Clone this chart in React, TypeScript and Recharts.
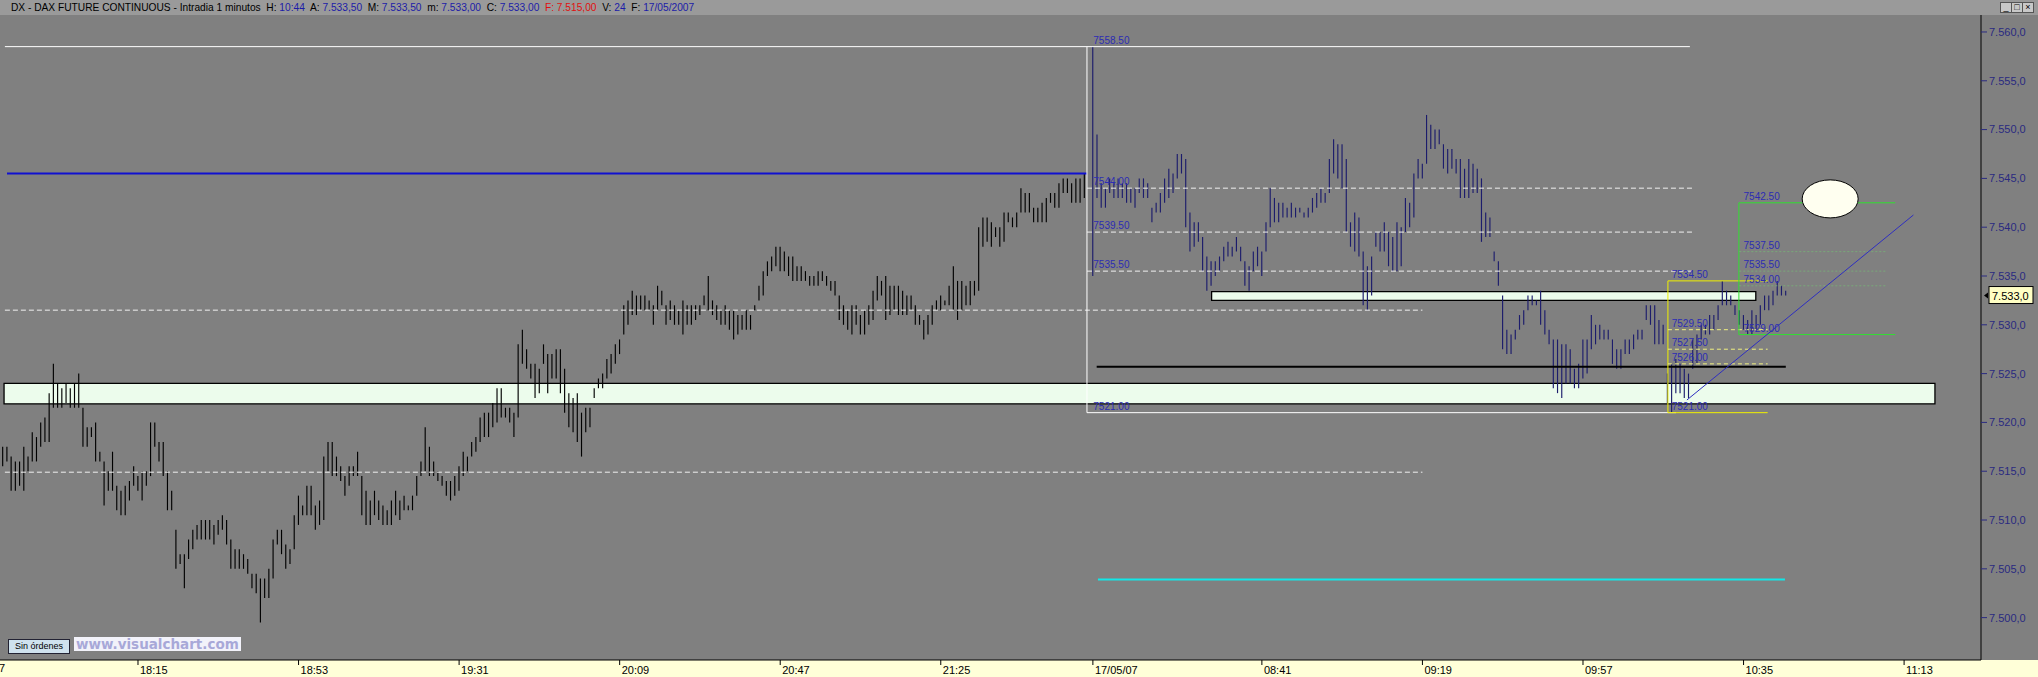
import React from 'react';
import {
  ComposedChart, Bar, XAxis, YAxis, ReferenceLine, ReferenceArea, ReferenceDot,
} from 'recharts';

// one slot per minute: day 1 = 17:43..21:59 (slots 0..256), day 2 = 08:00..10:44 (slots 258..422)
const DAY2_START = 258;

const day1High = [
  7517.5, 7517.5, 7516.5, 7516, 7516, 7517.5, 7516.5, 7519, 7518.5, 7520,
  7520.5, 7523, 7526, 7524, 7523.5, 7524, 7523.5, 7524, 7525, 7521.5,
  7519.5, 7519.5, 7520, 7517, 7516, 7515, 7517, 7513.5, 7513, 7513.5,
  7514, 7515.5, 7514.5, 7515, 7515, 7520, 7520, 7518, 7518, 7515,
  7513, 7509, 7506.5, 7506.5, 7508, 7509, 7509.5, 7510, 7510, 7510,
  7509.5, 7510, 7510.5, 7510, 7508, 7507, 7507, 7506.5, 7506, 7504.5,
  7504.5, 7504, 7504, 7505, 7508, 7509, 7509, 7507.5, 7507, 7510.5,
  7512.5, 7511.5, 7513.5, 7513.5, 7511.5, 7512, 7516.5, 7518, 7518, 7516.5,
  7515.5, 7514.5, 7515.5, 7515.5, 7517, 7514.5, 7513, 7512, 7513, 7512,
  7511.5, 7511, 7512, 7513, 7512, 7512.5, 7511.5, 7512.5, 7514.5, 7516,
  7519.5, 7517.5, 7516, 7515, 7514.5, 7514, 7514, 7514.5, 7515.5, 7517,
  7516.5, 7518, 7518.5, 7520.5, 7521, 7521, 7522, 7523.5, 7523.5, 7521.5,
  7521.5, 7521, 7528, 7529.5, 7527.5, 7526, 7526, 7525.5, 7528, 7527,
  7527, 7527.5, 7527.5, 7525.5, 7523, 7522.5, 7523, 7521, 7521.5, 7521.5,
  7523.5, 7524.5, 7525, 7526.5, 7527, 7528, 7528.5, 7532, 7532.5, 7533.5,
  7533, 7533, 7533, 7532.5, 7532, 7534, 7533.5, 7532, 7532.5, 7532,
  7531.5, 7532.5, 7532, 7532, 7532, 7532, 7533, 7535, 7532.5, 7532,
  7531.5, 7532, 7531.5, 7531.5, 7531, 7531, 7531.5, 7531, 7532, 7534,
  7535.5, 7536.5, 7537, 7538, 7538, 7537.5, 7537, 7537, 7536, 7536,
  7535.5, 7535, 7535, 7535.5, 7535.5, 7535, 7534.5, 7534.5, 7533, 7532,
  7531.5, 7532, 7532, 7531, 7531.5, 7532, 7533.5, 7535, 7534.5, 7535,
  7534, 7534, 7534, 7533.5, 7533, 7533, 7532, 7531, 7530.5, 7531,
  7532, 7532.5, 7533, 7532.5, 7534, 7536, 7534.5, 7534.5, 7534, 7534.5,
  7534.5, 7540, 7541, 7541, 7540.5, 7540, 7540, 7541.5, 7541.5, 7541,
  7541.5, 7544, 7543.5, 7543.5, 7542, 7542, 7542.5, 7543, 7543.5, 7543.5,
  7544.5, 7545, 7545, 7544.5, 7545, 7545, 7545.5,
];

const day1Low = [
  7515.5, 7516, 7513, 7513, 7513.5, 7513, 7515, 7516, 7516, 7517.5,
  7518, 7518, 7521.5, 7521.5, 7521.5, 7522, 7521.5, 7521.5, 7521.5, 7517.5,
  7517.5, 7518.5, 7516, 7516, 7511.5, 7513, 7513, 7511, 7510.5, 7510.5,
  7512, 7513.5, 7513, 7512, 7513.5, 7514.5, 7517.5, 7516, 7514.5, 7511,
  7511, 7505, 7505.5, 7503, 7506, 7507, 7508, 7508, 7508, 7508,
  7507.5, 7508.5, 7509, 7507.5, 7505, 7505, 7505, 7505, 7504.5, 7503,
  7502.5, 7499.5, 7502, 7502, 7504, 7507.5, 7506.5, 7505, 7505.5, 7507,
  7509.5, 7510.5, 7510.5, 7510.5, 7509, 7509.5, 7510, 7515, 7514.5, 7514.5,
  7514, 7512.5, 7513.5, 7514.5, 7514.5, 7510.5, 7509.5, 7509.5, 7510.5, 7510,
  7509.5, 7509.5, 7509.5, 7510.5, 7510, 7511, 7511, 7511, 7512.5, 7514.5,
  7515, 7514.5, 7514.5, 7514, 7513.5, 7512.5, 7512, 7512.5, 7513, 7514.5,
  7515, 7516.5, 7517, 7518, 7518.5, 7518.5, 7519.5, 7520, 7520.5, 7520.5,
  7520, 7518.5, 7520.5, 7526, 7525.5, 7524.5, 7522.5, 7523, 7526, 7523,
  7524.5, 7524.5, 7523, 7521, 7519.5, 7519, 7518, 7516.5, 7519, 7519.5,
  7522.5, 7523.5, 7523.5, 7524.5, 7525, 7526, 7527, 7529, 7530, 7531,
  7531, 7531.5, 7531.5, 7531.5, 7530, 7531.5, 7532, 7530, 7530.5, 7530,
  7530, 7529, 7530, 7530, 7530.5, 7531, 7532, 7531.5, 7531, 7530.5,
  7530, 7530, 7529.5, 7528.5, 7529, 7529.5, 7529.5, 7529.5, 7531.5, 7532.5,
  7533, 7535, 7535.5, 7536, 7535.5, 7535.5, 7535, 7534.5, 7534.5, 7534.5,
  7534.5, 7534, 7534, 7534, 7534.5, 7534, 7533.5, 7533, 7530.5, 7530,
  7529.5, 7529, 7530, 7529, 7529, 7530, 7530.5, 7532.5, 7533, 7530.5,
  7531, 7531.5, 7531, 7531, 7531, 7531.5, 7530, 7530, 7528.5, 7529,
  7530, 7531.5, 7531.5, 7532, 7532, 7531.5, 7530.5, 7531.5, 7532, 7532,
  7533, 7533.5, 7538, 7538.5, 7538, 7539, 7538, 7538.5, 7540.5, 7540,
  7540, 7541.5, 7541.5, 7541.5, 7540.5, 7540.5, 7540.5, 7540.5, 7542.5, 7542,
  7542, 7543.5, 7543.5, 7542.5, 7542.5, 7542.5, 7543,
];

const day2High = [
  7558.5, 7549.5, 7544.5, 7544, 7545, 7544.5, 7545, 7544.5, 7544.5, 7544,
  7544, 7545, 7545, 7544.5, 7542, 7542.5, 7543.5, 7545, 7546, 7545.5,
  7547.5, 7547.5, 7547, 7541.5, 7540.5, 7540.5, 7539, 7537, 7536.5, 7536.5,
  7537, 7538, 7538.5, 7538, 7539, 7538, 7536.5, 7536, 7537.5, 7538,
  7537.5, 7540.5, 7544, 7543, 7542.5, 7542.5, 7542, 7542.5, 7542, 7542,
  7541.5, 7542, 7543, 7543.5, 7544, 7543.5, 7547, 7549, 7548.5, 7548.5,
  7547, 7540.5, 7541.5, 7541, 7537.5, 7536, 7537, 7539.5, 7539.5, 7540.5,
  7539.5, 7539, 7540.5, 7540, 7543, 7542.5, 7545.5, 7547, 7546.5, 7551.5,
  7550.5, 7550, 7550, 7548.5, 7548, 7548, 7547, 7547, 7546, 7547,
  7546.5, 7546, 7545, 7541.5, 7541, 7537.5, 7536.5, 7533, 7529.5, 7529,
  7529.5, 7531, 7531.5, 7533, 7533, 7532.5, 7533.5, 7531.5, 7529.5, 7528.5,
  7528.5, 7528, 7528, 7527.5, 7525.5, 7526, 7528.5, 7528.5, 7531, 7530,
  7530, 7529.5, 7529.5, 7528.5, 7527.5, 7527.5, 7528.5, 7528.5, 7529, 7529.5,
  7529.5, 7532, 7532, 7532, 7530.5, 7530, 7525, 7526, 7526.5, 7526,
  7525.5, 7525, 7528.5, 7529, 7530, 7530, 7531, 7531, 7532, 7534.5,
  7533.5, 7533, 7532, 7531.5, 7531, 7530.5, 7531.5, 7531, 7532, 7533,
  7533, 7533.5, 7534.5, 7534, 7533.5,
];

const day2Low = [
  7535, 7543, 7542, 7542, 7543.5, 7543, 7543, 7543, 7542.5, 7542.5,
  7542, 7543.5, 7543, 7543, 7540.5, 7541.5, 7541.5, 7542.5, 7543, 7543.5,
  7545, 7545.5, 7540, 7537.5, 7538, 7538.5, 7535.5, 7533.5, 7534, 7535,
  7535.5, 7536.5, 7537, 7537, 7537.5, 7536.5, 7534, 7533.5, 7535.5, 7536,
  7535, 7537.5, 7540, 7540.5, 7540.5, 7541, 7541, 7541, 7541, 7541.5,
  7541, 7541, 7541.5, 7542, 7542.5, 7542.5, 7543.5, 7545.5, 7545, 7544,
  7539.5, 7538, 7537.5, 7537, 7532, 7531.5, 7533, 7538, 7537.5, 7537.5,
  7536, 7535.5, 7535.5, 7536, 7539.5, 7540, 7541, 7545, 7545, 7546.5,
  7548, 7548, 7548.5, 7546, 7545.5, 7546, 7545.5, 7543, 7543, 7543,
  7543.5, 7543.5, 7538.5, 7539, 7539, 7536.5, 7534, 7527.5, 7527, 7527,
  7528.5, 7529.5, 7530, 7531.5, 7532, 7532, 7530, 7529, 7528, 7523.5,
  7523, 7522.5, 7524, 7524, 7523.5, 7523.5, 7524.5, 7525, 7527.5, 7528,
  7528.5, 7528.5, 7528.5, 7526, 7525.5, 7525.5, 7527, 7527, 7527.5, 7528.5,
  7528.5, 7530.5, 7530, 7528, 7528, 7528, 7522, 7521, 7523, 7523,
  7522.5, 7522.5, 7525.5, 7526, 7528.5, 7529, 7529, 7529.5, 7530.5, 7532,
  7532, 7532, 7531, 7530, 7529.5, 7529, 7529, 7529.5, 7530, 7531.5,
  7531.5, 7532, 7533, 7533, 7533,
];

const timeTicks = [32, 70, 108, 146, 184, 222, 258, 298, 336, 374, 412, 450];
const timeLabels = ['18:15', '18:53', '19:31', '20:09', '20:47', '21:25', '17/05/07', '08:41', '09:19', '09:57', '10:35', '11:13'];
const priceTicks = [7500, 7505, 7510, 7515, 7520, 7525, 7530, 7535, 7540, 7545, 7550, 7555, 7560];

// drawn levels
const dayHigh = 7558.5;
const dayLow = 7521;
const retraceLevels = [7544, 7539.5, 7535.5];
const prevLevels = [7531.5, 7514.9];
const fibHigh = 7534.5;
const fibLevels = [7529.5, 7527.5, 7526];
const targetHigh = 7542.5;
const targetLow = 7529;
const targetLevels = [7537.5, 7535.5, 7534];
const resistanceLevel = 7545.5;
const supportBox = [7521.9, 7524];
const midBox = [7532.5, 7533.4];
const blackLevel = 7525.7;
const cyanLevel = 7503.9;
const lastPrice = 7533;
const trendStart = { x: 398.6, y: 7522.3 };
const trendEnd = { x: 452.2, y: 7541.25 };
const markerPoint = { x: 432.5, y: 7542.9 };

const X_MIN = -0.66;
const X_MAX = 468.2;
const Y_MIN = 7495.66;
const Y_MAX = 7561.74;

const FONT = '"Liberation Sans", Arial, sans-serif';
const LABEL_BLUE = '#2c2cb4';

const data = [
  ...day1High.map((h, i) => ({ x: i, range: [day1Low[i], h], day: 1 })),
  ...day2High.map((h, i) => ({ x: DAY2_START + i, range: [day2Low[i], h], day: 2 })),
];

const fmtPrice = (v: number) => {
  const s = v.toFixed(1).replace('.', ',');
  return s.slice(0, 1) + '.' + s.slice(1);
};

const HLBar = (p: any) => {
  const { x, y, width, height, payload } = p;
  if (x == null || y == null) return null;
  const cx = x + width / 2;
  const top = Math.min(y, y + height);
  const bottom = Math.max(y, y + height);
  return (
    <line x1={cx} x2={cx} y1={top} y2={Math.max(bottom, top + 1)}
      stroke={payload.day === 1 ? '#000000' : '#1c1c6c'} strokeWidth={1.15} />
  );
};

const TimeTick = (p: any) => {
  const i = timeTicks.indexOf(p.payload.value);
  return (
    <g>
      <line x1={p.x} x2={p.x} y1={660} y2={665} stroke="#000" />
      <text x={p.x + 2} y={674} fontSize={11} fontFamily={FONT} fill="#000" textAnchor="start">
        {timeLabels[i]}
      </text>
    </g>
  );
};

const textShape = (txt: string, color = LABEL_BLUE) => (p: any) => (
  <text x={p.cx} y={p.cy - 3} fill={color} fontSize={10} fontFamily={FONT}>{txt}</text>
);

const ellipseShape = (p: any) => (
  <ellipse cx={p.cx} cy={p.cy} rx={28} ry={19} fill="#fffff0" stroke="#000" strokeWidth={1} />
);

const priceTagShape = (p: any) => (
  <g>
    <path d={`M ${p.cx + 3} ${p.cy} l 4 -3 l 0 6 z`} fill="#000" />
    <rect x={p.cx + 8} y={p.cy - 9} width={44} height={17} fill="#ffffc4" stroke="#000" />
    <text x={p.cx + 11} y={p.cy + 4} fontSize={11} fontFamily={FONT} fill="#000">{fmtPrice(lastPrice)}</text>
  </g>
);

const hSeg = (y: number, x1: number, x2: number) => [{ x: x1, y }, { x: x2, y }];
const vSeg = (x: number, y1: number, y2: number) => [{ x, y: y1 }, { x, y: y2 }];

export default function App() {
  return (
    <div style={{
      position: 'absolute', left: 0, top: 0, width: 2038, height: 677,
      background: '#808080', overflow: 'hidden', fontFamily: FONT,
    }}>
      {/* title strip */}
      <div style={{
        position: 'absolute', left: 0, top: 0, width: 2038, height: 15,
        background: '#9a9a9a', fontSize: 10.2, lineHeight: '15px', whiteSpace: 'nowrap', color: '#000',
      }}>
        <span style={{ marginLeft: 11 }}>DX - DAX FUTURE CONTINUOUS - Intradia 1 minutos&nbsp; H: </span>
        <span style={{ color: '#1c1ca8' }}>10:44</span>
        <span>&nbsp; A: </span><span style={{ color: '#1c1ca8' }}>7.533,50</span>
        <span>&nbsp; M: </span><span style={{ color: '#1c1ca8' }}>7.533,50</span>
        <span>&nbsp; m: </span><span style={{ color: '#1c1ca8' }}>7.533,00</span>
        <span>&nbsp; C: </span><span style={{ color: '#1c1ca8' }}>7.533,00</span>
        <span style={{ color: '#e01010' }}>&nbsp; F: 7.515,00</span>
        <span>&nbsp; V: </span><span style={{ color: '#1c1ca8' }}>24</span>
        <span>&nbsp; F: </span><span style={{ color: '#1c1ca8' }}>17/05/2007</span>
      </div>
      {['_', '□', '×'].map((g, i) => (
        <div key={g} style={{
          position: 'absolute', left: 2000 + i * 11, top: 2, width: 10, height: 9,
          background: '#c8c8c8', border: '1px solid #555', fontSize: 9, lineHeight: '8px',
          textAlign: 'center', color: '#000',
        }}>{g}</div>
      ))}
      {/* time axis strip */}
      <div style={{ position: 'absolute', left: 0, top: 660, width: 2038, height: 17, background: '#ffffd8' }} />
      <div style={{ position: 'absolute', left: -1, top: 662, fontSize: 11, color: '#000' }}>7</div>

      <div style={{ position: 'absolute', left: 0, top: 0 }}>
        <ComposedChart width={2038} height={677} data={data}
          margin={{ top: 15, right: 0, bottom: 0, left: 0 }}>
          <XAxis dataKey="x" type="number" domain={[X_MIN, X_MAX]} allowDataOverflow
            ticks={timeTicks} interval={0} height={17} tickLine={false} tickSize={0} tickMargin={0}
            axisLine={{ stroke: '#000' }} tick={<TimeTick />} />
          <YAxis orientation="right" type="number" domain={[Y_MIN, Y_MAX]} allowDataOverflow
            ticks={priceTicks} interval={0} width={57} tickSize={6} tickMargin={2}
            axisLine={{ stroke: '#000' }} tickLine={{ stroke: '#2a2a80' }}
            tick={{ fill: '#2a2a80', fontSize: 11, fontFamily: FONT }} tickFormatter={fmtPrice} />

          {/* shaded zones */}
          <ReferenceArea x1={0.3} x2={457.3} y1={supportBox[0]} y2={supportBox[1]}
            fill="#ecfcec" fillOpacity={1} stroke="#000" strokeWidth={1.3} />
          <ReferenceArea x1={286.1} x2={414.9} y1={midBox[0]} y2={midBox[1]}
            fill="#ecfcec" fillOpacity={1} stroke="#000" strokeWidth={1.3} />

          {/* previous session and opening range lines */}
          <ReferenceLine segment={hSeg(dayHigh, 0.5, 399.3)} stroke="#ffffff" strokeWidth={1} />
          <ReferenceLine segment={hSeg(resistanceLevel, 1, 256.6)} stroke="#1010d0" strokeWidth={2} />
          {prevLevels.map(v => (
            <ReferenceLine key={v} segment={hSeg(v, 0.5, 336)} stroke="#f0f0f0" strokeDasharray="5 3" />
          ))}
          <ReferenceLine segment={vSeg(256.6, dayLow, dayHigh)} stroke="#ffffff" />
          <ReferenceLine segment={hSeg(dayLow, 256.6, 396)} stroke="#ffffff" />
          {retraceLevels.map(v => (
            <ReferenceLine key={v} segment={hSeg(v, 256.6, 400)} stroke="#f0f0f0" strokeDasharray="5 3" />
          ))}
          <ReferenceLine segment={hSeg(blackLevel, 258.9, 422)} stroke="#000" strokeWidth={2} />
          <ReferenceLine segment={hSeg(cyanLevel, 259.2, 421.8)} stroke="#10e8e8" strokeWidth={2} />

          <Bar dataKey="range" barSize={2} shape={<HLBar />} isAnimationActive={false} />

          {/* fibonacci from the low */}
          <ReferenceLine segment={vSeg(394.1, dayLow, fibHigh)} stroke="#f0f000" />
          <ReferenceLine segment={hSeg(fibHigh, 394.1, 417.7)} stroke="#f0f000" />
          <ReferenceLine segment={hSeg(dayLow, 394.1, 417.7)} stroke="#f0f000" />
          {fibLevels.map(v => (
            <ReferenceLine key={v} segment={hSeg(v, 394.1, 417.7)} stroke="#f0f080" strokeDasharray="4 3" />
          ))}

          {/* projection targets */}
          <ReferenceDot x={markerPoint.x} y={markerPoint.y} r={0} shape={ellipseShape} />
          <ReferenceLine segment={vSeg(410.9, targetLow, targetHigh)} stroke="#30e030" />
          <ReferenceLine segment={hSeg(targetHigh, 410.9, 447.9)} stroke="#30e030" />
          <ReferenceLine segment={hSeg(targetLow, 410.9, 447.9)} stroke="#30e030" />
          {targetLevels.map(v => (
            <ReferenceLine key={v} segment={hSeg(v, 411, 446)} stroke="#78a878" strokeDasharray="2 2" />
          ))}
          <ReferenceLine segment={[trendStart, trendEnd]} stroke="#2e2ec0" strokeWidth={1} />

          {/* level captions */}
          {[dayHigh, ...retraceLevels, dayLow].map(v => (
            <ReferenceDot key={'r' + v} x={258.1} y={v} r={0} shape={textShape(v.toFixed(2))} />
          ))}
          {[fibHigh, ...fibLevels, dayLow].map(v => (
            <ReferenceDot key={'f' + v} x={395} y={v} r={0} shape={textShape(v.toFixed(2))} />
          ))}
          {[targetHigh, ...targetLevels, targetLow].map(v => (
            <ReferenceDot key={'t' + v} x={412} y={v} r={0} shape={textShape(v.toFixed(2))} />
          ))}
          <ReferenceDot x={X_MAX} y={lastPrice} r={0} ifOverflow="visible" shape={priceTagShape} />
        </ComposedChart>
      </div>

      {/* footer badges */}
      <div style={{
        position: 'absolute', left: 8, top: 639, width: 60, height: 13, background: '#cfe2ee',
        border: '1px solid #223', fontSize: 9, lineHeight: '13px', textAlign: 'center', color: '#000',
      }}>Sin órdenes</div>
      <div style={{
        position: 'absolute', left: 74, top: 637, height: 14, padding: '0 2px', background: '#f2f2fa',
        fontFamily: '"DejaVu Sans", Verdana, sans-serif', fontSize: 13.5, fontWeight: 'bold',
        lineHeight: '14px', color: '#a8a8d8',
      }}>www.visualchart.com</div>
    </div>
  );
}
